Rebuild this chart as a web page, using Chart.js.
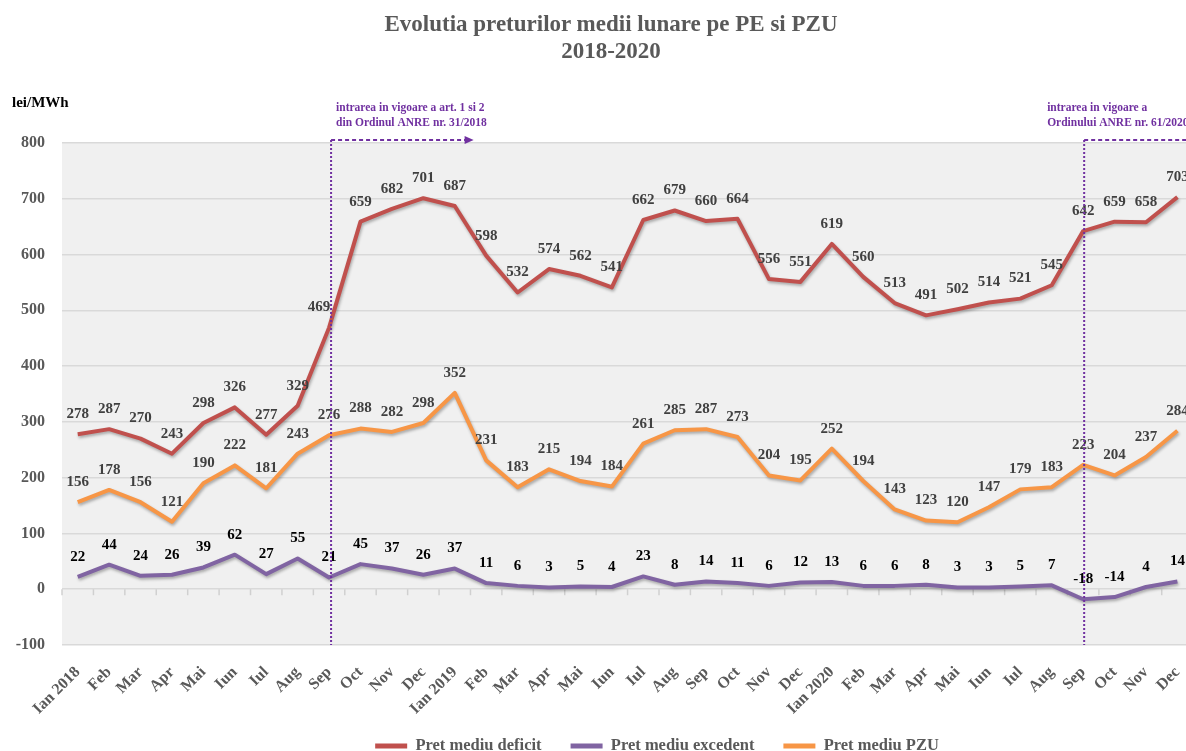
<!DOCTYPE html>
<html>
<head>
<meta charset="utf-8">
<script src="https://cdn.jsdelivr.net/npm/chart.js@4.4.1/dist/chart.umd.min.js"></script>
<style>
  html, body { margin: 0; padding: 0; background: #fff; overflow: hidden; }
  #wrap { position: relative; width: 1209px; height: 751px; }
  #title {
    position: absolute; left: 0; top: 10px; width: 1222px; text-align: center;
    font: bold 23px 'Liberation Serif', serif; color: #595959; line-height: 27px;
  }
  #unit {
    position: absolute; left: 12px; top: 94px;
    font: bold 15px 'Liberation Serif', serif; color: #000;
  }
</style>
</head>
<body>
<div id="wrap">
  <div id="title">Evolutia preturilor medii lunare pe PE si PZU<br>2018-2020</div>
  <div id="unit">lei/MWh</div>
  <canvas id="chart" width="1209" height="751"></canvas>
</div>
<script>
// Luni 2018-2020
const luni = [
  'Ian 2018', 'Feb', 'Mar', 'Apr', 'Mai', 'Iun', 'Iul', 'Aug', 'Sep', 'Oct', 'Nov', 'Dec',
  'Ian 2019', 'Feb', 'Mar', 'Apr', 'Mai', 'Iun', 'Iul', 'Aug', 'Sep', 'Oct', 'Nov', 'Dec',
  'Ian 2020', 'Feb', 'Mar', 'Apr', 'Mai', 'Iun', 'Iul', 'Aug', 'Sep', 'Oct', 'Nov', 'Dec',
];

const pretDeficit = [
  278, 287, 270, 243, 298, 326, 277, 329, 469, 659, 682, 701,
  687, 598, 532, 574, 562, 541, 662, 679, 660, 664, 556, 551,
  619, 560, 513, 491, 502, 514, 521, 545, 642, 659, 658, 703,
];
const pretExcedent = [
  22, 44, 24, 26, 39, 62, 27, 55, 21, 45, 37, 26,
  37, 11, 6, 3, 5, 4, 23, 8, 14, 11, 6, 12,
  13, 6, 6, 8, 3, 3, 5, 7, -18, -14, 4, 14,
];
const pretPZU = [
  156, 178, 156, 121, 190, 222, 181, 243, 276, 288, 282, 298,
  352, 231, 183, 215, 194, 184, 261, 285, 287, 273, 204, 195,
  252, 194, 143, 123, 120, 147, 179, 183, 223, 204, 237, 284,
];

const yMin = -100;
const yMax = 800;
const yStep = 100;

// momentele de intrare in vigoare (index luna)
const ordin1 = { idx: 8, arrowTo: 12.6, text: ['intrarea in vigoare a art. 1 si 2', 'din Ordinul ANRE nr. 31/2018'] };
const ordin2 = { idx: 32, text: ['intrarea in vigoare a', 'Ordinului ANRE nr. 61/2020'] };

const SERIF = "'Liberation Serif', 'Times New Roman', serif";
const CULORI = { deficit: '#c0504d', excedent: '#8064a2', pzu: '#f79646', mov: '#7030a0' };
const LEG_PAD = 29;
const LEG_FONT = 16.5;

/* ── fundal zona grafic ─────────────────────────────── */
const plotBg = {
  id: 'plotBg',
  beforeDraw(chart) {
    const { ctx, chartArea: a } = chart;
    ctx.save();
    ctx.fillStyle = '#f0f0f0';
    ctx.fillRect(a.left, a.top, a.right - a.left, a.bottom - a.top);
    ctx.restore();
  },
};

/* ── umbra linii + gradatii pe axa 0 ────────────────── */
const shadow = {
  id: 'shadow',
  beforeDatasetsDraw(chart) {
    const { ctx, scales: { x, y } } = chart;
    const y0 = y.getPixelForValue(0);
    const step = x.getPixelForValue(1) - x.getPixelForValue(0);
    ctx.save();
    ctx.strokeStyle = '#d0d0d0';
    ctx.lineWidth = 1.5;
    for (let i = 0; i <= luni.length; i++) {
      const px = x.getPixelForValue(0) - step / 2 + i * step;
      ctx.beginPath();
      ctx.moveTo(px, y0);
      ctx.lineTo(px, y0 + 6);
      ctx.stroke();
    }
    ctx.restore();
    ctx.save();
    ctx.shadowColor = 'rgba(0,0,0,0.3)';
    ctx.shadowBlur = 3;
    ctx.shadowOffsetX = 1;
    ctx.shadowOffsetY = 2;
  },
  afterDatasetsDraw(chart) {
    chart.ctx.restore();
  },
};

/* ── etichete valori ────────────────────────────────── */
const valueLabels = {
  id: 'valueLabels',
  afterDatasetsDraw(chart) {
    const { ctx } = chart;
    ctx.save();
    ctx.font = 'bold 15px ' + SERIF;
    ctx.textAlign = 'center';
    ctx.textBaseline = 'middle';
    chart.data.datasets.forEach((ds, di) => {
      const meta = chart.getDatasetMeta(di);
      ctx.fillStyle = ds.labelColor;
      meta.data.forEach((pt, i) => {
        let dx = 0;
        if (di === 0 && i === 8) dx = -10;
        ctx.fillText(String(ds.data[i]), pt.x + dx, pt.y - 20);
      });
    });
    ctx.restore();
  },
};

/* ── adnotari ordine ANRE ───────────────────────────── */
const ordine = {
  id: 'ordine',
  afterDraw(chart) {
    const { ctx, chartArea: a, scales: { x } } = chart;
    const step = x.getPixelForValue(1) - x.getPixelForValue(0);
    const topY = a.top - 3;
    ctx.save();
    ctx.strokeStyle = CULORI.mov;
    ctx.fillStyle = CULORI.mov;
    ctx.lineWidth = 2;

    const vline = (px) => {
      ctx.setLineDash([2, 2]);
      ctx.beginPath();
      ctx.moveTo(px, topY);
      ctx.lineTo(px, a.bottom);
      ctx.stroke();
    };

    // ordin 1
    const x1 = x.getPixelForValue(ordin1.idx) + 2;
    const x1e = x.getPixelForValue(0) + ordin1.arrowTo * step;
    vline(x1);
    ctx.setLineDash([4, 3]);
    ctx.beginPath();
    ctx.moveTo(x1, topY);
    ctx.lineTo(x1e - 8, topY);
    ctx.stroke();
    ctx.setLineDash([]);
    ctx.beginPath();
    ctx.moveTo(x1e, topY);
    ctx.lineTo(x1e - 9, topY - 4);
    ctx.lineTo(x1e - 9, topY + 4);
    ctx.closePath();
    ctx.fill();

    // ordin 2
    const x2 = x.getPixelForValue(ordin2.idx) + 1;
    vline(x2);
    ctx.setLineDash([4, 3]);
    ctx.beginPath();
    ctx.moveTo(x2, topY);
    ctx.lineTo(chart.width, topY);
    ctx.stroke();
    ctx.setLineDash([]);

    ctx.font = 'bold 11.5px ' + SERIF;
    ctx.textBaseline = 'middle';
    ctx.textAlign = 'left';
    ordin1.text.forEach((t, k) => ctx.fillText(t, x1 + 5, 108 + k * 15));
    ordin2.text.forEach((t, k) => ctx.fillText(t, x2 - 37, 108 + k * 15));
    ctx.restore();
  },
};

/* ── legenda si axa x: pozitie ca in original ───────── */
const legendShift = {
  id: 'legendShift',
  afterLayout(chart) {
    const lg = chart.legend;
    if (lg) {
      const h = lg.bottom - lg.top;
      const dx = 657 - (lg.left + lg.right) / 2;
      lg.left += dx; lg.right += dx;
      lg.top = 746 - LEG_PAD - LEG_FONT / 2;
      lg.bottom = lg.top + h;
    }
    // etichetele axei x nu trebuie taiate
    chart.scales.x.bottom = chart.height;
  },
};

const ctx = document.getElementById('chart');
new Chart(ctx, {
  type: 'line',
  data: {
    labels: luni,
    datasets: [
      { label: 'Pret mediu deficit',   data: pretDeficit,  borderColor: CULORI.deficit,  backgroundColor: CULORI.deficit,  labelColor: '#404040' },
      { label: 'Pret mediu excedent',  data: pretExcedent, borderColor: CULORI.excedent, backgroundColor: CULORI.excedent, labelColor: '#000000' },
      { label: 'Pret mediu PZU',       data: pretPZU,      borderColor: CULORI.pzu,      backgroundColor: CULORI.pzu,      labelColor: '#404040' },
    ],
  },
  options: {
    responsive: false,
    animation: false,
    layout: { padding: { top: 143, left: 0, right: 0, bottom: 0 } },
    elements: {
      line: { borderWidth: 4, tension: 0, borderJoinStyle: 'round' },
      point: { radius: 0, hoverRadius: 0 },
    },
    plugins: {
      tooltip: { enabled: false },
      legend: {
        position: 'bottom',
        labels: {
          font: { family: SERIF, size: LEG_FONT, weight: 'bold' },
          color: '#595959',
          boxWidth: 32,
          boxHeight: 5,
          padding: LEG_PAD,
          generateLabels(chart) {
            return Chart.defaults.plugins.legend.labels.generateLabels(chart)
              .map(it => Object.assign(it, { lineWidth: 0 }));
          },
        },
      },
    },
    scales: {
      x: {
        offset: true,
        grid: { display: false, drawTicks: false },
        border: { display: false },
        ticks: {
          font: { family: SERIF, size: 16, weight: 'bold' },
          color: '#595959',
          minRotation: 45,
          maxRotation: 45,
          autoSkip: false,
          padding: 18,
        },
        afterFit(scale) {
          const lh = scale.chart.legend ? scale.chart.legend.height : 28;
          scale.height = 751 - 645 - lh;
        },
      },
      y: {
        min: yMin,
        max: yMax,
        grid: { color: '#d9d9d9', lineWidth: 1.5, drawTicks: false },
        border: { display: false },
        ticks: {
          stepSize: yStep,
          font: { family: SERIF, size: 16, weight: 'bold' },
          color: '#595959',
          padding: 17,
        },
        afterFit(scale) { scale.width = 62; },
      },
    },
  },
  plugins: [plotBg, shadow, valueLabels, ordine, legendShift],
});
</script>
</body>
</html>
